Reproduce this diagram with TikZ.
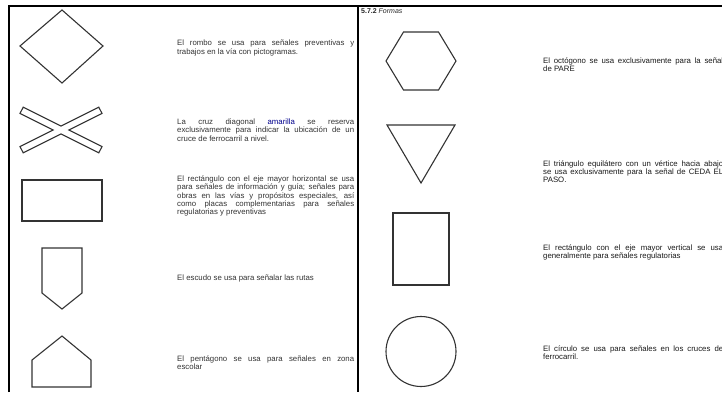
\documentclass[tikz,border=0pt]{standalone}
\usepackage{fontspec}
\setmainfont{Liberation Sans}

\begin{document}
\begin{tikzpicture}[x=1pt,y=-1pt,
 shp/.style={draw=black!80,line width=1.1pt},
 frm/.style={line width=2pt},
 txt/.style={anchor=west,inner sep=0pt,text width=177pt,align=justify,font=\fontsize{7.8}{6.6}\selectfont,text=black!80},
 txtr/.style={txt,text width=180pt,text=black!90},
 hdr/.style={anchor=west,inner sep=0pt,font=\fontsize{7}{8}\selectfont,text=black!85}]
\useasboundingbox (0,0) rectangle (722,392);
\clip (0,0) rectangle (722,392);
\draw[frm] (9,392) -- (9,5.5) -- (722,5.5);
\draw[frm] (358,5.5) -- (358,392);
\node[hdr] (sec) at (361,11) {\textbf{5.7.2} \textit{Formas}};
% left column
\draw[shp] (62,10) -- (103,46) -- (62,83) -- (20,46) -- cycle;
\draw[shp] (61,126.1) -- (98.8,107.2) -- (102,113.4) -- (68.8,130) -- (102,146.6) -- (98.8,152.8) -- (61,133.9) -- (23.2,152.8) -- (20,146.6) -- (53.2,130) -- (20,113.4) -- (23.2,107.2) -- cycle;
\draw[shp] (22,180) rectangle (102,221);
\draw[shp] (42,248) -- (82,248) -- (82,293) -- (62,309) -- (42,293) -- cycle;
\draw[shp] (62,336) -- (91,360) -- (91,387) -- (32,387) -- (32,360) -- cycle;
\node[txt] (rombo) at (177,48) {El rombo se usa para señales preventivas y\linebreak trabajos en la vía con pictogramas.};
\node[txt] (cruz) at (177,130) {La cruz diagonal \textcolor{blue!55!black}{amarilla} se reserva\linebreak exclusivamente para indicar la ubicación de un\linebreak cruce de ferrocarril a nivel.};
\node[txt] (recth) at (177,196) {El rectángulo con el eje mayor horizontal se usa\linebreak para señales de  información y guía; señales para\linebreak obras en las vías y propósitos especiales, así\linebreak como placas complementarias para señales\linebreak regulatorias y preventivas};
\node[txt] (escudo) at (177,278) {El escudo se usa para señalar las rutas};
\node[txt] (penta) at (177,362.5) {El pentágono se usa para señales en zona\linebreak escolar};
% right column
\draw[shp] (386,61) -- (403.5,32) -- (438.5,32) -- (456,61) -- (438.5,90) -- (403.5,90) -- cycle;
\draw[shp] (387,125) -- (455,125) -- (421,183) -- cycle;
\draw[shp] (393,213) rectangle (449,285);
\draw[shp] (421,351.5) circle (35pt);
\node[txtr] (octo) at (543,65) {El octógono se usa exclusivamente para la señal\linebreak de PARE};
\node[txtr] (trian) at (543,171.5) {El triángulo equilátero con un vértice hacia abajo\linebreak se usa exclusivamente para la señal de CEDA EL\linebreak PASO.};
\node[txtr] (rectv) at (543,252.5) {El rectángulo con el eje mayor vertical se usa\linebreak generalmente para señales regulatorias};
\node[txtr] (circ) at (543,352.5) {El círculo se usa para señales en los cruces de\linebreak ferrocarril.};
\end{tikzpicture}
\end{document}
